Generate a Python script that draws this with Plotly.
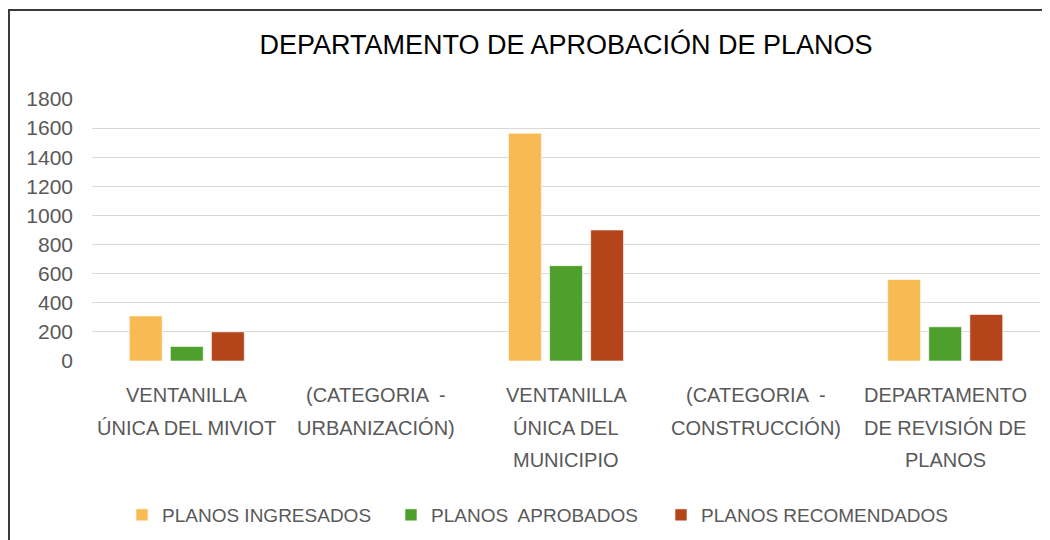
import plotly.graph_objects as go

# categories (x) and their wrapped labels
categorias = ["c1", "c2", "c3", "c4", "c5"]
etiquetas = [
    ["VENTANILLA", "ÚNICA DEL MIVIOT"],
    ["(CATEGORIA  -", "URBANIZACIÓN)"],
    ["VENTANILLA", "ÚNICA DEL", "MUNICIPIO"],
    ["(CATEGORIA  -", "CONSTRUCCIÓN)"],
    ["DEPARTAMENTO", "DE REVISIÓN DE", "PLANOS"],
]

ingresados = [310, None, 1565, None, 560]
aprobados = [100, None, 655, None, 235]
recomendados = [200, None, 900, None, 320]

series = [
    ("PLANOS INGRESADOS", ingresados, "#F8BB53"),
    ("PLANOS  APROBADOS", aprobados, "#4E9F2B"),
    ("PLANOS RECOMENDADOS", recomendados, "#B4451A"),
]

FONT = "Liberation Sans, Arial, sans-serif"
GREY = "#595959"

# page has an 8px body margin, so the plot box is laid out 8px up/left
L, T, W, H = 84, 91, 948, 262
legend_icon_x = [142, 411, 681]  # icon centres of the three legend entries (page px)

fig = go.Figure()
legend_ids = ["legend", "legend2", "legend3"]
for (name, vals, col), lid in zip(series, legend_ids):
    fig.add_trace(go.Bar(
        x=categorias, y=vals, name=name, legend=lid, showlegend=True,
        marker=dict(color=col, line=dict(color="rgba(255,255,255,0.6)", width=1)),
    ))

# category labels drawn line by line (wide line spacing like the original)
annotations = []
for cat, lines in zip(categorias, etiquetas):
    for i, txt in enumerate(lines):
        annotations.append(dict(
            x=cat, xref="x", y=0, yref="y", text=txt, showarrow=False,
            yanchor="middle", yshift=-34 - 32.5 * i,
            font=dict(family=FONT, size=20, color=GREY),
        ))

legends = {}
for lid, ix in zip(legend_ids, legend_icon_x):
    legends[lid] = dict(
        orientation="h", x=(ix - 8 - 20 - L) / W, xanchor="left",
        y=(T + H - (515 - 8)) / H, yanchor="middle",
        font=dict(family=FONT, size=19, color=GREY),
    )

fig.update_layout(
    width=1050, height=540, showlegend=True,
    paper_bgcolor="white", plot_bgcolor="white",
    margin=dict(l=L, r=1050 - L - W, t=T, b=540 - T - H, autoexpand=False),
    barmode="group", bargap=0.35, bargroupgap=0.2,
    title=dict(text="DEPARTAMENTO DE APROBACIÓN DE PLANOS", x=0.5, xref="paper",
               y=(540 - 37) / 540, yanchor="middle",
               font=dict(family=FONT, size=27, color="#000000")),
    xaxis=dict(showticklabels=False, showgrid=False, showline=False, ticks=""),
    yaxis=dict(range=[0, 1800], dtick=200, showgrid=True, gridcolor="#D9D9D9",
               gridwidth=1, zeroline=False, showline=False, ticks="",
               ticklabelstandoff=18,
               tickfont=dict(family=FONT, size=21, color=GREY)),
    annotations=annotations,
    shapes=[
        dict(type="rect", xref="paper", yref="paper",
             x0=(1 - L) / W, x1=1.2, y0=-1.0, y1=(T + H - 2) / H,
             line=dict(color="#3A3A3A", width=2), fillcolor="rgba(0,0,0,0)",
             layer="below"),
    ],
    **legends,
)

fig.write_html("out.html")
